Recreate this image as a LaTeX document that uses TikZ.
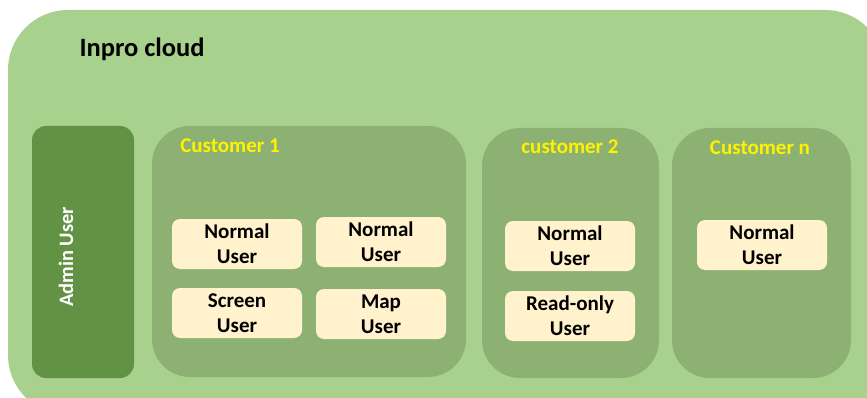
\documentclass[tikz,border=0pt]{standalone}
\usepackage{fontspec}
\setmainfont{Carlito}
\usetikzlibrary{positioning}
\definecolor{cloudgreen}{HTML}{A9D18E}
\definecolor{custgreen}{HTML}{8DB073}
\definecolor{admingreen}{HTML}{629345}
\definecolor{usercream}{HTML}{FFF2CC}
\tikzset{
  custbox/.style={fill=custgreen, rounded corners=38pt},
  custlabel/.style={text=yellow, font=\fontsize{21}{24}\selectfont\bfseries},
  userbox/.style={fill=usercream, rounded corners=8pt, minimum width=130pt, minimum height=50pt,
    align=center, inner sep=0pt, font=\fontsize{21}{25}\selectfont\bfseries}
}
\begin{document}
\begin{tikzpicture}[x=1pt, y=-1pt]
      \useasboundingbox (0, 0) rectangle (867, 398);
      \clip (0, 0) rectangle (867, 398);

      % cloud
      \fill [cloudgreen, rounded corners=60pt] (8, 10) rectangle (885, 415);
      \node [anchor = west, font=\fontsize{26.5}{30}\selectfont\bfseries] (cloud) at (76, 49) {Inpro cloud};

      % admin
      \fill [admingreen, rounded corners=14pt] (32, 126) rectangle (134, 378);
      \node [rotate=90, text=white, font=\fontsize{20.5}{24}\selectfont\bfseries] (admin) at (66, 257) {Admin User};

      % customer 1
      \fill [custbox] (152, 126) rectangle (466, 377);
      \node [custlabel] (c1) at (230, 146) {Customer 1};
      \node [userbox] (c1u1) at (237, 244) {Normal\\User};
      \node [userbox] (c1u2) at (381, 242) {Normal\\User};
      \node [userbox] (c1u3) at (237, 313) {Screen\\User};
      \node [userbox] (c1u4) at (381, 314) {Map\\User};

      % customer 2
      \fill [custbox] (482, 128) rectangle (659, 378);
      \node [custlabel] (c2) at (570, 147) {customer 2};
      \node [userbox] (c2u1) at (570, 246) {Normal\\User};
      \node [userbox] (c2u2) at (570, 316) {Read-only\\User};

      % customer n
      \fill [custbox] (672, 128) rectangle (851, 378);
      \node [custlabel] (cn) at (760, 148) {Customer n};
      \node [userbox] (cnu1) at (762, 245) {Normal\\User};

    \end{tikzpicture}
\end{document}
